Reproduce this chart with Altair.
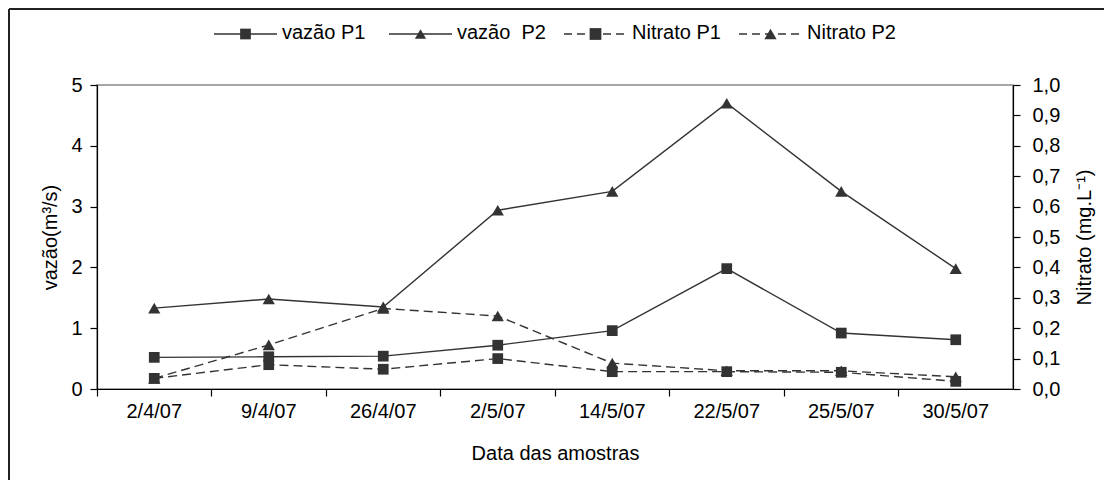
import altair as alt
import pandas as pd

# ---- data ----
dates = ["2/4/07", "9/4/07", "26/4/07", "2/5/07", "14/5/07", "22/5/07", "25/5/07", "30/5/07"]
vazao_p1 = [0.52, 0.53, 0.54, 0.72, 0.96, 1.98, 0.92, 0.81]
vazao_p2 = [1.33, 1.48, 1.35, 2.94, 3.25, 4.70, 3.25, 1.98]
nitrato_p1 = [0.035, 0.08, 0.065, 0.10, 0.057, 0.057, 0.055, 0.025]
nitrato_p2 = [0.035, 0.145, 0.265, 0.24, 0.085, 0.06, 0.06, 0.04]
series_names = ["vazão P1", "vazão  P2", "Nitrato P1", "Nitrato P2"]
series_shapes = ["square", "triangle-up", "square", "triangle-up"]
series_sizes = [115, 150, 115, 150]
series_dash = [[1, 0], [1, 0], [8, 5], [8, 5]]
left_ticks = [0, 1, 2, 3, 4, 5]
right_ticks = [0.0, 0.1, 0.2, 0.3, 0.4, 0.5, 0.6, 0.7, 0.8, 0.9, 1.0]

rows = []
for name, vals in zip(series_names, [vazao_p1, vazao_p2, nitrato_p1, nitrato_p2]):
    for i, (d, v) in enumerate(zip(dates, vals)):
        rows.append({"data": d, "serie": name, "valor": v, "ordem": i})
df = pd.DataFrame(rows)

legend_df = pd.DataFrame({
    "serie": series_names,
    "slot": list(range(len(series_names))),
    "rotulo": [s.replace("  ", "\u00a0 ") for s in series_names],
})

FONT = "Liberation Sans"
INK = "#333333"


def x_def(show_axis):
    axis = alt.Axis(title="Data das amostras", labelAngle=0, bandPosition=0,
                    tickSize=7, labelPadding=5, titlePadding=22) if show_axis else None
    return alt.X("data:N", sort=dates,
                 scale=alt.Scale(type="band", domain=dates, paddingInner=0, paddingOuter=0),
                 axis=axis)


y_left = alt.Y(
    "valor:Q",
    scale=alt.Scale(domain=[0, 5], nice=False),
    axis=alt.Axis(title="vazão(m³/s)", orient="left", values=left_ticks,
                  tickSize=7, labelPadding=8, titlePadding=10),
)
y_right = alt.Y(
    "valor:Q",
    scale=alt.Scale(domain=[0, 1], nice=False),
    axis=alt.Axis(title="Nitrato (mg.L⁻¹)", orient="right", values=right_ticks,
                  format=".1f", labelExpr="replace(datum.label, '.', ',')",
                  tickSize=7, labelPadding=12, titlePadding=15,
                  titleAngle=270, titleBaseline="top"),
)

base = alt.Chart(df)
order = alt.Order("ordem:Q")


def only(names):
    return alt.FieldOneOfPredicate(field="serie", oneOf=names)


xa = x_def(True)
xn = x_def(False)

flow_lines = base.transform_filter(only(series_names[:2])).mark_line(
    color=INK, strokeWidth=1.4).encode(x=xa, y=y_left, detail="serie:N", order=order)
flow_sq = base.transform_filter(only([series_names[0]])).mark_point(
    shape="square", filled=True, size=115, color=INK, opacity=1).encode(x=xa, y=y_left)
flow_tri = base.transform_filter(only([series_names[1]])).mark_point(
    shape="triangle-up", filled=True, size=150, color=INK, opacity=1).encode(x=xa, y=y_left)

nit_lines = base.transform_filter(only(series_names[2:])).mark_line(
    color=INK, strokeWidth=1.4, strokeDash=[9, 5]).encode(x=xn, y=y_right, detail="serie:N", order=order)
nit_sq = base.transform_filter(only([series_names[2]])).mark_point(
    shape="square", filled=True, size=115, color=INK, opacity=1).encode(x=xn, y=y_right)
nit_tri = base.transform_filter(only([series_names[3]])).mark_point(
    shape="triangle-up", filled=True, size=150, color=INK, opacity=1).encode(x=xn, y=y_right)

flow = alt.layer(flow_lines, flow_sq, flow_tri)
nit = alt.layer(nit_lines, nit_sq, nit_tri)

# ---- legend drawn as marks on its own slot scale ----
lx = alt.X("slot:Q", scale=alt.Scale(domain=[0, 3], range=[117, 642]), axis=None)
ly = alt.value(-51)
lbase = alt.Chart(legend_df)
leg_line = lbase.mark_rule(color=INK, strokeWidth=1.4, x2Offset=63).encode(
    x=lx, x2="slot:Q", y=ly,
    strokeDash=alt.StrokeDash("serie:N", scale=alt.Scale(domain=series_names, range=series_dash),
                              legend=None))
leg_mark = lbase.mark_point(filled=True, color=INK, opacity=1, xOffset=31.5).encode(
    x=lx, y=ly,
    shape=alt.Shape("serie:N", scale=alt.Scale(domain=series_names, range=series_shapes),
                    legend=None),
    size=alt.Size("serie:N", scale=alt.Scale(domain=series_names, range=series_sizes),
                  legend=None))
leg_text = lbase.mark_text(align="left", baseline="middle", dx=68, dy=-1, fontSize=20,
                           font=FONT, color="black").encode(x=lx, y=ly, text="rotulo:N")
legend_layer = alt.layer(leg_line, leg_mark, leg_text)

# outer chart border (left and top edges visible in the crop)
one = alt.Chart(pd.DataFrame({"k": [0]}))
border_left = one.mark_rule(color="#222", strokeWidth=2).encode(
    x=alt.value(-88), y=alt.value(-76), y2=alt.value(420))
border_top = one.mark_rule(color="#222", strokeWidth=2).encode(
    x=alt.value(-88), x2=alt.value(1100), y=alt.value(-76))

chart = alt.layer(border_left, border_top, flow, nit, legend_layer).resolve_scale(
    y="independent", x="independent"
).properties(
    width=916, height=304,
    autosize=alt.AutoSizeParams(type="none"),
    padding={"left": 89, "top": 77, "right": 91, "bottom": 91},
    background="white",
).configure(font=FONT).configure_view(
    stroke="#888888", strokeWidth=1.5
).configure_axis(
    labelFontSize=20, titleFontSize=20, titleFontWeight="normal",
    labelColor="black", titleColor="black", domainColor="black", tickColor="black",
    domainWidth=1.2, tickWidth=1.2, grid=False, labelFont=FONT, titleFont=FONT,
)

chart.save("out.html", embed_options={"renderer": "svg", "actions": False})
